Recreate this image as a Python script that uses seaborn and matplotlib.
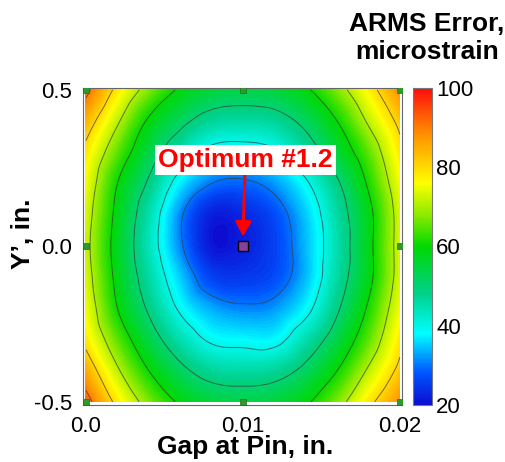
import numpy as np
import pandas as pd
import matplotlib
matplotlib.use("Agg")
import matplotlib.pyplot as plt
import matplotlib.tri as mtri
from matplotlib.colors import LinearSegmentedColormap, Normalize
import seaborn as sns

# ---------------- data ----------------
gap_in = [0.0, 0.002, 0.004, 0.006, 0.008, 0.01, 0.012, 0.014, 0.016, 0.018, 0.02]
yprime_in = [0.5, 0.4, 0.3, 0.2, 0.1, 0.0, -0.1, -0.2, -0.3, -0.4, -0.5]
# ARMS error (microstrain), rows top (Y'=0.5) to bottom (Y'=-0.5)
row_p50 = [92, 78, 67, 59, 55, 54, 55, 59, 67, 77, 88]
row_p40 = [84, 71, 59, 52, 47, 46, 47, 52, 60, 71, 82]
row_p30 = [78, 65, 54, 45, 38, 37, 39, 46, 55, 65, 78]
row_p20 = [75, 60, 49, 37, 30, 29, 32, 39, 49, 61, 75]
row_p10 = [73, 58, 45, 31, 22, 23, 27, 35, 46, 58, 73]
row_000 = [72, 57, 44, 31, 21, 22, 26, 34, 45, 58, 73]
row_m10 = [73, 58, 46, 35, 26, 25, 27, 34, 46, 58, 73]
row_m20 = [75, 60, 49, 39, 33, 31, 32, 38, 49, 61, 75]
row_m30 = [78, 65, 54, 45, 39, 38, 38, 45, 54, 65, 78]
row_m40 = [85, 71, 60, 52, 47, 46, 47, 52, 60, 71, 82]
row_m50 = [93, 78, 67, 59, 55, 54, 55, 59, 67, 78, 88]

design_gap = [0.0, 0.01, 0.02, 0.0, 0.02, 0.0, 0.01, 0.02]
design_y = [0.5, 0.5, 0.5, 0.0, 0.0, -0.5, -0.5, -0.5]
opt_gap = [0.01]
opt_y = [0.0]
opt_label = "Optimum #1.2"

contour_levels = [30, 40, 50, 60, 70, 80, 90]
cbar_ticks = [20, 40, 60, 80, 100]
x_ticks = [0.0, 0.01, 0.02]
x_ticklabels = ["0.0", "0.01", "0.02"]
y_ticks = [-0.5, 0.0, 0.5]
y_ticklabels = ["-0.5", "0.0", "0.5"]

# ---------------- style ----------------
sns.set_style("white")
plt.rcParams['font.family'] = ['Liberation Sans', 'DejaVu Sans']
plt.rcParams['text.color'] = 'black'
plt.rcParams['axes.labelcolor'] = 'black'
plt.rcParams['xtick.labelcolor'] = 'black'
plt.rcParams['ytick.labelcolor'] = 'black'

cmap = LinearSegmentedColormap.from_list("arms", [
    (0.00, (0.05, 0.05, 0.82)),
    (0.10, (0.00, 0.33, 1.00)),
    (0.225, (0.00, 1.00, 1.00)),
    (0.35, (0.00, 0.82, 0.55)),
    (0.50, (0.00, 0.85, 0.00)),
    (0.60, (0.55, 0.92, 0.00)),
    (0.70, (1.00, 1.00, 0.00)),
    (0.86, (1.00, 0.55, 0.00)),
    (1.00, (1.00, 0.05, 0.05)),
])
norm = Normalize(20, 100)

fig = plt.figure(figsize=(5.06, 4.62), dpi=100)
W, H = 506, 462
ax = fig.add_axes([83 / W, 1 - 405 / H, 319 / W, 317 / H])

# surface
Z = np.array([row_p50, row_p40, row_p30, row_p20, row_p10, row_000,
              row_m10, row_m20, row_m30, row_m40, row_m50], dtype=float)
X, Y = np.meshgrid(gap_in, yprime_in)
tri = mtri.Triangulation(X.ravel(), Y.ravel())
refiner = mtri.UniformTriRefiner(tri)
tri_f, z_f = refiner.refine_field(Z.ravel(), subdiv=5,
                                  triinterpolator=mtri.CubicTriInterpolator(tri, Z.ravel(), kind='geom'))
ax.tricontourf(tri_f, z_f, levels=np.linspace(14, 106, 140), cmap=cmap, norm=norm, extend='both')
ax.tricontour(tri_f, z_f, levels=contour_levels, colors='#3a3a3a', linewidths=0.7, alpha=0.7)

# design points and optimum
pts = pd.DataFrame({"gap": design_gap, "y": design_y})
sns.scatterplot(data=pts, x="gap", y="y", ax=ax, marker="s", s=22,
                color="#2e9a2e", edgecolor="#207020", linewidth=0.5, zorder=5, clip_on=True)
opt = pd.DataFrame({"gap": opt_gap, "y": opt_y})
sns.scatterplot(data=opt, x="gap", y="y", ax=ax, marker="s", s=42,
                color="#8a3fa0", edgecolor="black", linewidth=1.0, zorder=6)

ax.annotate(opt_label, xy=(opt_gap[0], opt_y[0] + 0.03), xytext=(0.01015, 0.5 - (160 - 90) / 312),
            ha="center", va="center", fontsize=19, fontweight="bold", color="#ff0000",
            bbox=dict(boxstyle="square,pad=0.12", fc="white", ec="none"),
            arrowprops=dict(arrowstyle="-|>,head_length=0.45,head_width=0.25", color="#ff0000", lw=2.2,
                            shrinkA=0, shrinkB=0), zorder=7)

ax.set_xlim(-0.00019, 0.02013)
ax.set_ylim(-0.51, 0.506)
ax.set_xticks(x_ticks)
ax.set_xticklabels(x_ticklabels)
ax.set_yticks(y_ticks)
ax.set_yticklabels(y_ticklabels)
ax.set_xticks([0.005, 0.015], minor=True)
ax.set_yticks([-0.4, -0.2, 0.2, 0.4], minor=True)
ax.tick_params(axis='both', which='major', labelsize=16, length=4, width=0.6, color='#777777', pad=4, direction='out')
ax.tick_params(axis='both', which='minor', length=3, width=0.6, color='#999999', direction='out')
for s in ax.spines.values():
    s.set_color('#666666')
    s.set_linewidth(0.8)

ax.set_xlabel("Gap at Pin, in.", fontsize=19, fontweight="bold")
ax.set_ylabel("Y\u2019, in.", fontsize=19, fontweight="bold")
ax.xaxis.set_label_coords(0.508, -0.095)
ax.yaxis.set_label_coords(-0.15, 0.54)

# colorbar
cax = fig.add_axes([413 / W, 1 - 405 / H, 19 / W, 317 / H])
sm = plt.cm.ScalarMappable(norm=norm, cmap=cmap)
cb = fig.colorbar(sm, cax=cax, ticks=cbar_ticks)
cb.outline.set_edgecolor('#777777')
cb.outline.set_linewidth(0.8)
cax.tick_params(labelsize=16, length=0, pad=3)
fig.text(427 / W, 1 - 38 / H, "ARMS Error,\nmicrostrain", ha="center", va="center",
         fontsize=19, fontweight="bold", linespacing=1.2)

fig.savefig("out.png", dpi=100)
